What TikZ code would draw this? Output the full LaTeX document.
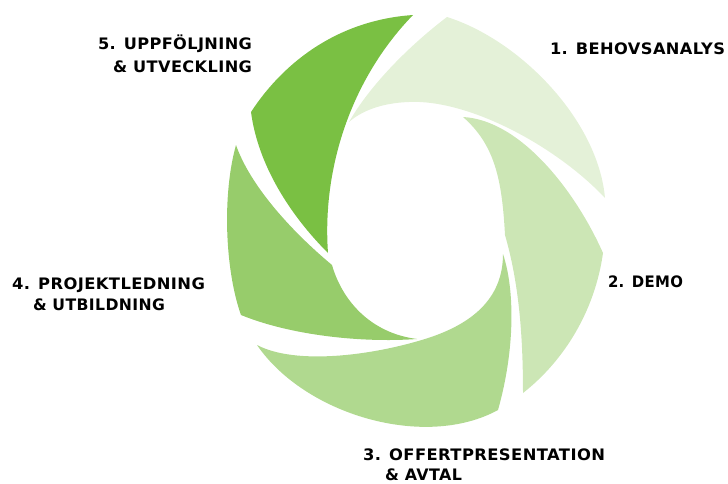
\documentclass[tikz,border=0pt]{standalone}
\usepackage{fontspec}
\usepackage{graphicx}
\newfontfamily\lblfont{DejaVu Sans}[LetterSpace=2.5]
\definecolor{pA}{HTML}{E4F1D8}
\definecolor{pB}{HTML}{CCE6B5}
\definecolor{pC}{HTML}{B0D98F}
\definecolor{pD}{HTML}{97CC6B}
\definecolor{pE}{HTML}{7AC043}
\newcommand\lblfit[2]{\resizebox{#1pt}{\height}{#2}}
\tikzset{
  lbl/.style={anchor=base west, inner sep=0pt, outer sep=0pt, text=black,
    font=\lblfont\bfseries\fontsize{15.8}{18}\selectfont},
}
\begin{document}
\begin{tikzpicture}[x=1pt,y=-1pt]
\useasboundingbox (0,0) rectangle (728,483);
% petal 1
\fill[pA] (447,17) .. controls (520,40) and (598,120) .. (605,198)
  .. controls (560,150) and (480,105) .. (420,102)
  .. controls (390,101) and (365,108) .. (349,122)
  .. controls (370,85) and (410,45) .. (447,17) -- cycle;
% petal 2
\fill[pB] (463,117) .. controls (520,120) and (575,190) .. (603,253)
  .. controls (595,310) and (565,360) .. (523,393)
  .. controls (523,330) and (518,280) .. (505,235)
  .. controls (502,180) and (495,145) .. (463,117) -- cycle;
% petal 3
\fill[pC] (257,345) .. controls (305,415) and (425,450) .. (498,410)
  .. controls (515,350) and (515,290) .. (503,254)
  .. controls (503,300) and (470,325) .. (425,339)
  .. controls (370,356) and (295,365) .. (257,345) -- cycle;
% petal 4
\fill[pD] (236,145) .. controls (222,195) and (225,270) .. (241,315)
  .. controls (290,335) and (360,343) .. (417,339)
  .. controls (370,333) and (342,300) .. (332,265)
  .. controls (290,230) and (250,185) .. (236,145) -- cycle;
% petal 5
\fill[pE] (413,15) .. controls (340,20) and (285,60) .. (251,112)
  .. controls (258,165) and (290,215) .. (328,253)
  .. controls (322,170) and (350,80) .. (413,15) -- cycle;
% labels
\node[lbl] (l1) at (550,54) {\lblfit{175}{1. BEHOVSANALYS}};
\node[lbl] (l2) at (608,287) {\lblfit{75}{2. DEMO}};
\node[lbl] (l3a) at (363,460) {\lblfit{242}{3. OFFERTPRESENTATION}};
\node[lbl] (l3b) at (385,480.5) {\lblfit{77}{\& AVTAL}};
\node[lbl] (l4a) at (12,289) {\lblfit{193}{4. PROJEKTLEDNING}};
\node[lbl] (l4b) at (33,310) {\lblfit{132}{\& UTBILDNING}};
\node[lbl] (l5a) at (98,49.5) {\lblfit{154}{5. UPPFÖLJNING}};
\node[lbl] (l5b) at (113,72.5) {\lblfit{139}{\& UTVECKLING}};
\end{tikzpicture}
\end{document}
